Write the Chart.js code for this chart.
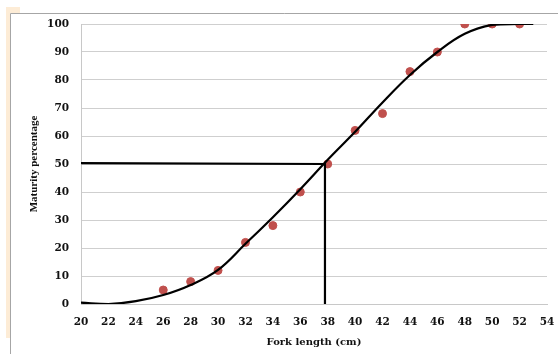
<!DOCTYPE html>
<html>
<head>
<meta charset="utf-8">
<script src="https://cdn.jsdelivr.net/npm/chart.js@4/dist/chart.umd.min.js"></script>
<style>
  html, body { margin: 0; padding: 0; background: #fff; }
  #wrap { width: 558px; height: 354px; position: relative; }
</style>
</head>
<body>
<div id="wrap"><canvas id="chart" width="558" height="354"></canvas></div>
<script>
'use strict';

// observed maturity (%) by fork length (cm)
const obsLength = [26, 28, 30, 32, 34, 36, 38, 40, 42, 44, 46, 48, 50, 52];
const obsMature = [5, 8, 12, 22, 28, 40, 50, 62, 68, 83, 90, 100, 100, 100];

// fitted curve
const fitLength = [20, 22, 24, 26, 28, 30, 32, 34, 36, 38, 40, 42, 44, 46, 48, 50, 52, 53];
const fitMature = [0.5, 0, 1, 3.2, 6.8, 12.2, 21.5, 31, 41, 51.5, 61.5, 72, 81.8, 90, 96.5, 99.7, 100, 100];

// L50 guide lines
const l50Length = [20, 37.8, 37.8];
const l50Mature = [50.3, 50, 0];

const xTicks = { min: 20, max: 54, step: 2 };
const yTicks = { min: 0, max: 100, step: 10 };

const xy = (xs, ys) => xs.map((x, i) => ({ x, y: ys[i] }));

const tickFont = { family: "'DejaVu Serif', serif", size: 10.5, weight: 'bold' };
const xTitleFont = { family: "'DejaVu Serif', serif", size: 10, weight: 'bold' };
const yTitleFont = { family: "'Liberation Serif', serif", size: 11, weight: 'bold' };

/* ── frame behind the chart ─────────────────────────── */
const framePlugin = {
    id: 'frame',
    beforeDraw(chart) {
        const g = chart.ctx;
        g.save();
        g.fillStyle = '#fdecd6';
        g.fillRect(6, 7, 14, 6);
        g.fillRect(6, 7, 4, 331);
        g.strokeStyle = '#a6a6a6';
        g.lineWidth = 1;
        g.beginPath();
        g.moveTo(10.5, 354);
        g.lineTo(10.5, 13.5);
        g.lineTo(558, 13.5);
        g.stroke();
        g.restore();
    }
};

new Chart(document.getElementById('chart'), {
    type: 'scatter',
    data: {
        datasets: [
            {
                label: 'L50',
                type: 'line',
                data: xy(l50Length, l50Mature),
                borderColor: '#000',
                borderWidth: 2.2,
                pointRadius: 0,
                tension: 0,
                fill: false,
                order: 0,
            },
            {
                label: 'Fitted',
                type: 'line',
                data: xy(fitLength, fitMature),
                borderColor: '#000',
                borderWidth: 2.2,
                pointRadius: 0,
                tension: 0.4,
                fill: false,
                order: 1,
            },
            {
                label: 'Observed',
                data: xy(obsLength, obsMature),
                backgroundColor: '#c0504d',
                borderColor: '#c0504d',
                pointRadius: 4,
                order: 2,
            }
        ]
    },
    options: {
        responsive: false,
        animation: false,
        layout: { padding: { left: 0, top: 24, right: 11, bottom: 0 } },
        plugins: { legend: { display: false }, tooltip: { enabled: false } },
        scales: {
            x: {
                type: 'linear',
                min: xTicks.min, max: xTicks.max,
                afterFit: s => { s.height = 50; s.paddingLeft = 0; s.paddingRight = 0; },
                grid: { display: false, drawTicks: false },
                border: { display: true, color: '#c8c8c8' },
                ticks: { stepSize: xTicks.step, color: '#111', font: tickFont, padding: 12, maxRotation: 0 },
                title: { display: true, text: 'Fork length (cm)', color: '#111', font: xTitleFont, padding: { top: 0, bottom: 6 } }
            },
            y: {
                min: yTicks.min, max: yTicks.max,
                afterFit: s => { s.width = 81; },
                grid: { color: '#cfcfcf', lineWidth: 1, drawTicks: false },
                border: { display: true, color: '#c8c8c8' },
                ticks: { stepSize: yTicks.step, color: '#111', font: tickFont, padding: 12 },
                title: { display: true, text: 'Maturity percentage', color: '#111', font: yTitleFont, padding: { top: 28, bottom: 0 } }
            }
        }
    },
    plugins: [framePlugin]
});
</script>
</body>
</html>
